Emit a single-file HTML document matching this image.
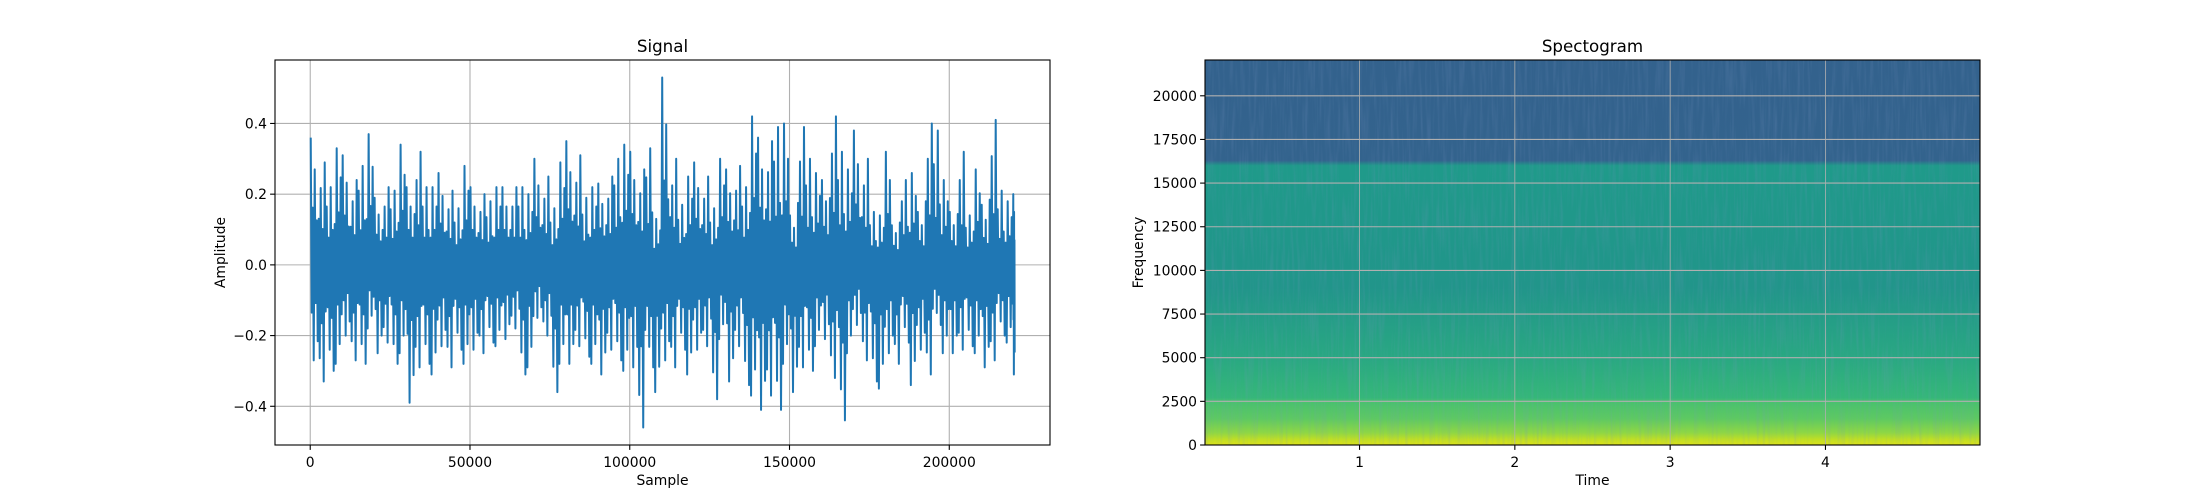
<!DOCTYPE html>
<html>
<head>
<meta charset="utf-8">
<style>
html,body{margin:0;padding:0;background:#fff;}
svg{display:block;}
text{font-family:"DejaVu Sans","Liberation Sans",sans-serif;fill:#000;}
</style>
</head>
<body>
<svg id="fig" width="2200" height="500" viewBox="0 0 2200 500" xmlns="http://www.w3.org/2000/svg">
  <defs>
    <linearGradient id="specGrad" x1="0" y1="1" x2="0" y2="0"></linearGradient>
    <filter id="streaks" x="0" y="0" width="100%" height="100%">
      <feTurbulence type="fractalNoise" baseFrequency="0.35 0.02" numOctaves="2" seed="3"/>
      <feColorMatrix type="matrix" values="0 0 0 0 0.2  0 0 0 0 0.3  0 0 0 0 0.55  0 0 0 1.4 -0.6"/>
    </filter>
  </defs>
  <g id="signalAx"></g>
  <g id="specAx"></g>
</svg>
<script>
// ---------- Signal data (per-2500-sample bucket envelope) ----------
const bucketSize = 2500;
const bucketMax = [0.36,0.29,0.22,0.33,0.31,0.24,0.28,0.37,0.19,0.22,0.21,0.34,0.22,0.32,0.22,0.22,0.26,0.21,0.16,0.28,0.22,0.20,0.18,0.22,0.22,0.22,0.22,0.20,0.30,
0.25,0.16,0.29,0.35,0.31,0.19,0.22,0.23,0.25,0.30,0.34,0.32,0.27,0.33,0.13,0.53,0.30,0.17,0.25,0.29,0.25,0.16,0.30,0.27,0.28,0.22,0.42,0.36,0.35,0.39,
0.40,0.14,0.39,0.30,0.26,0.24,0.42,0.32,0.27,0.38,0.30,0.15,0.14,0.32,0.12,0.24,0.26,0.15,0.40,0.38,0.24,0.15,0.32,0.14,0.27,0.17,0.41,0.21,0.18,0.20];
const bucketMin = [-0.27,-0.33,-0.30,-0.28,-0.20,-0.27,-0.28,-0.18,-0.25,-0.22,-0.28,-0.25,-0.39,-0.29,-0.28,-0.31,-0.23,-0.29,-0.24,-0.28,-0.24,-0.25,-0.22,-0.23,-0.21,-0.18,-0.31,-0.29,-0.15,
-0.20,-0.36,-0.28,-0.28,-0.23,-0.26,-0.28,-0.31,-0.24,-0.27,-0.30,-0.29,-0.46,-0.29,-0.36,-0.27,-0.29,-0.24,-0.31,-0.24,-0.23,-0.38,-0.21,-0.33,-0.23,-0.34,-0.37,-0.41,-0.37,-0.41,
-0.28,-0.36,-0.29,-0.30,-0.23,-0.21,-0.32,-0.44,-0.25,-0.17,-0.27,-0.33,-0.35,-0.25,-0.28,-0.22,-0.34,-0.24,-0.31,-0.17,-0.25,-0.25,-0.24,-0.23,-0.25,-0.29,-0.27,-0.20,-0.22,-0.31];
const totalSamples = 220500;
const sigXTicks = [0,50000,100000,150000,200000];
const sigYTicks = [-0.4,-0.2,0.0,0.2,0.4];
const sigYTickLabels = ["\u22120.4","\u22120.2","0.0","0.2","0.4"];

// ---------- Spectrogram data ----------
const specFreqStops = [0,300,700,1500,2500,2700,5000,9000,16000,16300,22050];
const specColorStops = ["#dce319","#c2df23","#8fd744","#5ec962","#48c16e","#35b779","#29a882","#21958a","#1f9a8a","#33638d","#33628d"];
const specXTicks = [1,2,3,4];
const specYTicks = [0,2500,5000,7500,10000,12500,15000,17500,20000];
const timeMax = 5.0;
const freqMax = 22050;

const NS = "http://www.w3.org/2000/svg";
function mk(tag, attrs, parent){
  const e = document.createElementNS(NS, tag);
  for (const k in attrs) e.setAttribute(k, attrs[k]);
  if (parent) parent.appendChild(e);
  return e;
}

// ---------- Signal chart ----------
(function(){
  const g = document.getElementById('signalAx');
  const L=275, R=1050, T=60, B=445;
  const xmin=-totalSamples*0.05, xmax=totalSamples*1.05;
  let dmax=Math.max(...bucketMax), dmin=Math.min(...bucketMin);
  const pad=(dmax-dmin)*0.05, ymin=dmin-pad, ymax=dmax+pad;
  const sx = v => L + (v-xmin)/(xmax-xmin)*(R-L);
  const sy = v => B - (v-ymin)/(ymax-ymin)*(B-T);

  sigXTicks.forEach(t=>{
    const l = mk('line',{x1:sx(t),x2:sx(t),y1:T,y2:B,stroke:'#b0b0b0','stroke-width':1.1},g);
    
    
  });
  sigYTicks.forEach(t=>{
    const l = mk('line',{x1:L,x2:R,y1:sy(t),y2:sy(t),stroke:'#b0b0b0','stroke-width':1.1},g);
    
    
  });

  const hiF=[1,0.45,0.75,0.35];
  const loF=[0.5,1,0.4,0.8];
  let d='';
  for(let i=0;i<bucketMax.length;i++){
    const s0=i*bucketSize;
    const w=Math.min(bucketSize, totalSamples-s0);
    if (w<=0) break;
    const n=hiF.length;
    const rot=i%n;
    for(let k=0;k<n;k++){
      const hx=sx(s0+w*(k+0.25)/n);
      const lx=sx(s0+w*(k+0.75)/n);
      const hv=bucketMax[i]*hiF[(k+rot)%n];
      const lv=bucketMin[i]*loF[(k+rot*3)%n];
      d += (d===''?'M':'L')+hx.toFixed(2)+','+sy(hv).toFixed(2)+'L'+lx.toFixed(2)+','+sy(lv).toFixed(2);
    }
  }
  const p = mk('path',{d:d,fill:'none',stroke:'#1f77b4','stroke-width':2,'stroke-linejoin':'round'},g);
  
  

  const f = mk('rect',{x:L,y:T,width:R-L,height:B-T,fill:'none',stroke:'#000','stroke-width':1.1},g);
  
  

  sigXTicks.forEach(t=>{
    mk('line',{x1:sx(t),x2:sx(t),y1:B,y2:B+4.9,stroke:'#000','stroke-width':1.1},g);
    const tx = mk('text',{x:sx(t),y:B+22,'text-anchor':'middle','font-size':13.9},g);
    tx.textContent=String(t);
    
    
  });
  sigYTicks.forEach((t,i)=>{
    mk('line',{x1:L-4.9,x2:L,y1:sy(t),y2:sy(t),stroke:'#000','stroke-width':1.1},g);
    const tx = mk('text',{x:L-8,y:sy(t)+5,'text-anchor':'end','font-size':13.9},g);
    tx.textContent=sigYTickLabels[i];
    
    
  });
  const title = mk('text',{x:(L+R)/2,y:52,'text-anchor':'middle','font-size':16.7},g);
  title.textContent='Signal';
  
  
  const xl = mk('text',{x:(L+R)/2,y:485,'text-anchor':'middle','font-size':13.9},g);
  xl.textContent='Sample';
  
  
  const yl = mk('text',{x:0,y:0,'text-anchor':'middle','font-size':13.9,transform:'translate(225,'+((T+B)/2)+') rotate(-90)'},g);
  yl.textContent='Amplitude';
  
  
})();

// ---------- Spectrogram ----------
(function(){
  const g = document.getElementById('specAx');
  const L=1205, R=1980, T=60, B=445;
  const tmin=0.005, tmax=timeMax-0.005;
  const sx = v => L + (v-tmin)/(tmax-tmin)*(R-L);
  const sy = v => B - v/freqMax*(B-T);

  const grad = document.getElementById('specGrad');
  specFreqStops.forEach((f,i)=>{
    mk('stop',{offset:(f/freqMax*100).toFixed(3)+'%','stop-color':specColorStops[i]},grad);
  });
  const img = mk('rect',{x:L,y:T,width:R-L,height:B-T,fill:'url(#specGrad)'},g);
  
  
  const tex = mk('rect',{x:L,y:T,width:R-L,height:B-T,filter:'url(#streaks)',opacity:0.3},g);
  
  

  specXTicks.forEach(t=>{
    const l = mk('line',{x1:sx(t),x2:sx(t),y1:T,y2:B,stroke:'#b0b0b0','stroke-width':0.8},g);
    
    
  });
  specYTicks.forEach(t=>{
    const l = mk('line',{x1:L,x2:R,y1:sy(t),y2:sy(t),stroke:'#b0b0b0','stroke-width':1.1},g);
    
    
  });
  const f = mk('rect',{x:L,y:T,width:R-L,height:B-T,fill:'none',stroke:'#000','stroke-width':1.1},g);
  
  

  specXTicks.forEach(t=>{
    mk('line',{x1:sx(t),x2:sx(t),y1:B,y2:B+4.9,stroke:'#000','stroke-width':1.1},g);
    const tx = mk('text',{x:sx(t),y:B+22,'text-anchor':'middle','font-size':13.9},g);
    tx.textContent=String(t);
    
    
  });
  specYTicks.forEach(t=>{
    mk('line',{x1:L-4.9,x2:L,y1:sy(t),y2:sy(t),stroke:'#000','stroke-width':1.1},g);
    const tx = mk('text',{x:L-8,y:sy(t)+5,'text-anchor':'end','font-size':13.9},g);
    tx.textContent=String(t);
    
    
  });
  const title = mk('text',{x:(L+R)/2,y:52,'text-anchor':'middle','font-size':16.7},g);
  title.textContent='Spectogram';
  
  
  const xl = mk('text',{x:(L+R)/2,y:485,'text-anchor':'middle','font-size':13.9},g);
  xl.textContent='Time';
  
  
  const yl = mk('text',{x:0,y:0,'text-anchor':'middle','font-size':13.9,transform:'translate(1143,'+((T+B)/2)+') rotate(-90)'},g);
  yl.textContent='Frequency';
  
  
})();
</script>
</body>
</html>
